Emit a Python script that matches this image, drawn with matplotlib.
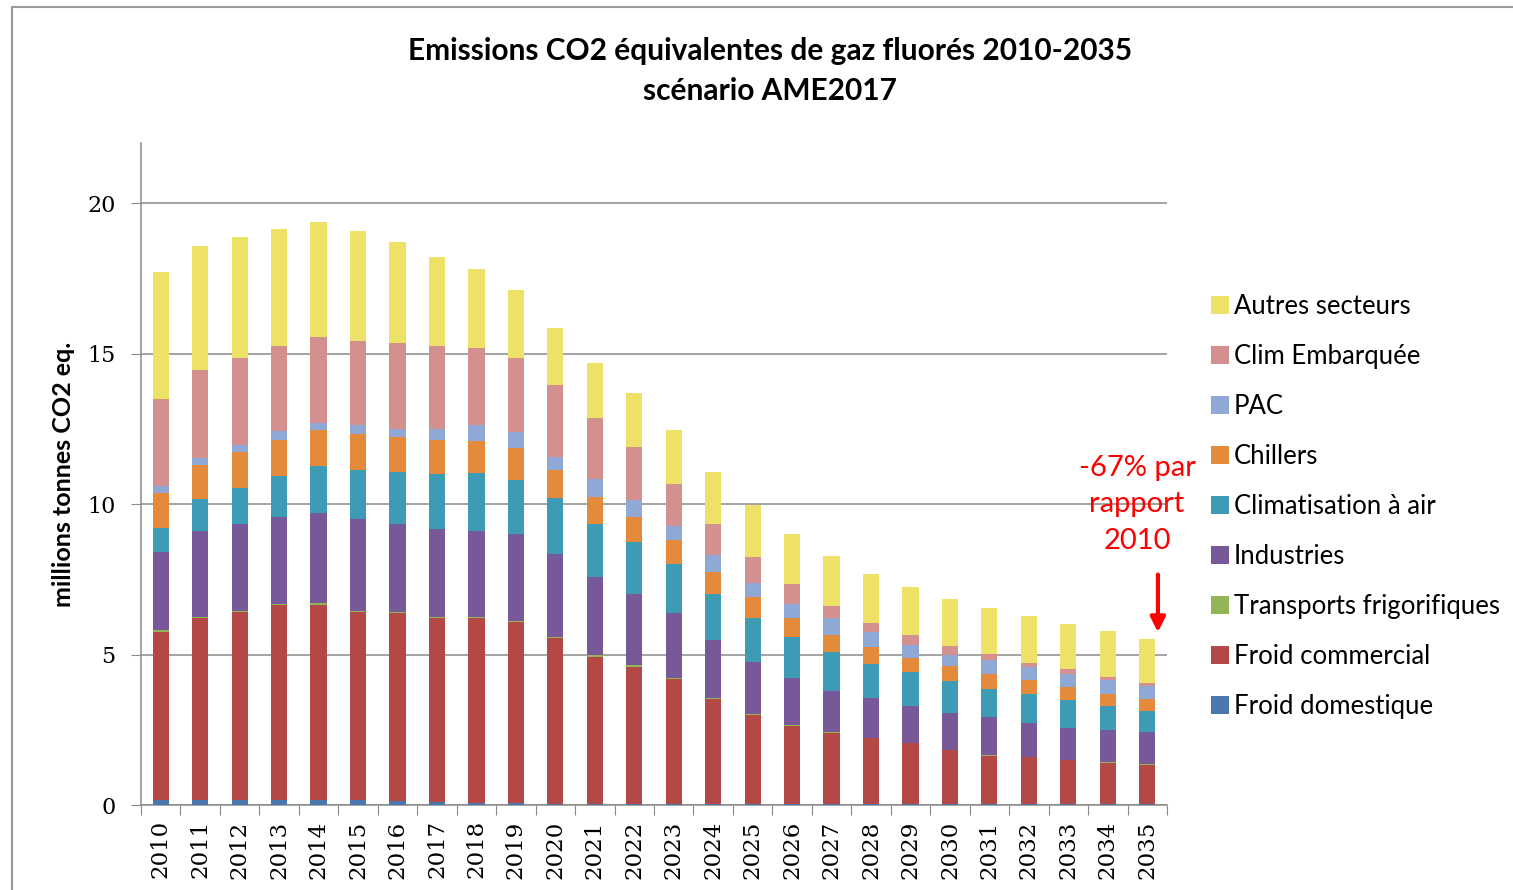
import matplotlib.pyplot as plt
from matplotlib.patches import Rectangle

# data (millions tonnes CO2 eq.)
years = ['2010', '2011', '2012', '2013', '2014', '2015', '2016', '2017', '2018',
         '2019', '2020', '2021', '2022', '2023', '2024', '2025', '2026', '2027',
         '2028', '2029', '2030', '2031', '2032', '2033', '2034', '2035']

froid_domestique = [0.15, 0.15, 0.17, 0.17, 0.17, 0.15, 0.12, 0.10, 0.08, 0.06, 0.05, 0.04, 0.03,
                    0.03, 0.03, 0.02, 0.02, 0.02, 0.02, 0.02, 0.02, 0.02, 0.02, 0.02, 0.02, 0.02]
transports_frigo = [0.05, 0.05, 0.05, 0.05, 0.05, 0.05, 0.05, 0.05, 0.05, 0.05, 0.05, 0.04, 0.04,
                    0.03, 0.03, 0.03, 0.02, 0.02, 0.02, 0.02, 0.02, 0.02, 0.02, 0.02, 0.02, 0.02]
froid_commercial = [5.61, 6.06, 6.24, 6.47, 6.49, 6.26, 6.25, 6.11, 6.13, 6.01, 5.50, 4.89, 4.57,
                    4.16, 3.50, 2.98, 2.62, 2.37, 2.20, 2.03, 1.80, 1.62, 1.56, 1.47, 1.39, 1.32]
industries = [2.61, 2.86, 2.88, 2.88, 3.01, 3.05, 2.92, 2.92, 2.86, 2.90, 2.74, 2.61, 2.37,
              2.15, 1.92, 1.71, 1.56, 1.38, 1.30, 1.22, 1.23, 1.25, 1.14, 1.06, 1.06, 1.05]
clim_air = [0.78, 1.04, 1.18, 1.35, 1.54, 1.61, 1.74, 1.83, 1.92, 1.78, 1.86, 1.76, 1.72,
            1.64, 1.53, 1.49, 1.36, 1.30, 1.16, 1.13, 1.06, 0.94, 0.94, 0.91, 0.80, 0.72]
chillers = [1.18, 1.14, 1.22, 1.22, 1.21, 1.21, 1.14, 1.12, 1.07, 1.07, 0.92, 0.90, 0.84,
            0.79, 0.74, 0.69, 0.62, 0.55, 0.55, 0.48, 0.49, 0.52, 0.47, 0.45, 0.39, 0.39]
pac = [0.22, 0.22, 0.24, 0.28, 0.24, 0.29, 0.29, 0.38, 0.51, 0.54, 0.46, 0.59, 0.57,
       0.48, 0.55, 0.46, 0.49, 0.56, 0.50, 0.41, 0.36, 0.46, 0.44, 0.44, 0.47, 0.43]
clim_embarquee = [2.89, 2.95, 2.89, 2.83, 2.86, 2.79, 2.84, 2.73, 2.57, 2.45, 2.38, 2.02, 1.76,
                  1.40, 1.04, 0.87, 0.66, 0.41, 0.30, 0.33, 0.31, 0.18, 0.14, 0.14, 0.09, 0.09]
autres = [4.22, 4.12, 4.00, 3.89, 3.79, 3.68, 3.35, 2.97, 2.63, 2.27, 1.90, 1.84, 1.79,
          1.79, 1.72, 1.72, 1.67, 1.66, 1.62, 1.59, 1.55, 1.55, 1.55, 1.50, 1.55, 1.47]

series = [
    ('Froid domestique', froid_domestique, '#4a78ae'),
    ('Froid commercial', froid_commercial, '#b34846'),
    ('Transports frigorifiques', transports_frigo, '#93b556'),
    ('Industries', industries, '#77599a'),
    ('Climatisation à air', clim_air, '#3e9bb5'),
    ('Chillers', chillers, '#e58a3a'),
    ('PAC', pac, '#8fa8d6'),
    ('Clim Embarquée', clim_embarquee, '#d4908e'),
    ('Autres secteurs', autres, '#ede168'),
]

fig = plt.figure(figsize=(15.13, 8.90), dpi=100)
ax = fig.add_axes([0.0932, 0.0955, 0.6781, 0.7438])

x = list(range(len(years)))
bottom = [0.0] * len(years)
handles = []
for name, vals, col in series:
    b = ax.bar(x, vals, width=0.41, bottom=bottom, color=col, label=name, zorder=3)
    handles.append(b)
    bottom = [b0 + v for b0, v in zip(bottom, vals)]

ax.set_xlim(-0.5, len(years) - 0.5)
ax.set_ylim(0, 22)
ax.set_yticks([0, 5, 10, 15, 20])
ax.yaxis.grid(True, color='#8a8a8a', linewidth=1.1, zorder=0)
ax.set_axisbelow(True)

for s in ['top', 'right']:
    ax.spines[s].set_visible(False)
for s in ['left', 'bottom']:
    ax.spines[s].set_color('#8a8a8a')
    ax.spines[s].set_linewidth(1.1)

# category ticks sit between the bars, labels under each bar
ax.set_xticks([i - 0.5 for i in range(len(years) + 1)])
ax.set_xticklabels([])
ax.set_xticks(x, minor=True)
ax.set_xticklabels(years, minor=True, rotation=90, family='DejaVu Serif', fontsize=16.5)
ax.tick_params(axis='x', which='major', length=7, color='#8a8a8a')
ax.tick_params(axis='x', which='minor', length=0, pad=11)
ax.tick_params(axis='y', length=7, color='#8a8a8a', labelsize=16, pad=11.5)
for lab in ax.get_yticklabels():
    lab.set_family('DejaVu Serif')

ax.set_ylabel('millions tonnes CO2 eq.', fontsize=18, fontweight='bold', family='Lato')
ax.yaxis.set_label_coords(-0.0643, 0.5)

fig.suptitle('Emissions CO2 équivalentes de gaz fluorés 2010-2035\nscénario AME2017',
             x=0.509, y=0.958, fontsize=21.5, fontweight='bold', family='Lato', linespacing=1.5)

leg = fig.legend(handles[::-1], [s[0] for s in series][::-1], loc='upper left',
                 bbox_to_anchor=(0.785, 0.6955), frameon=False, prop={'family': 'Lato', 'size': 18.5},
                 handlelength=0.7, handleheight=0.7, handletextpad=0.2, labelspacing=0.97)

ax.text(24.74, 10.0, '-67% par\nrapport\n2010', color='#ff0000', fontsize=21, family='Lato',
        ha='center', va='center', linespacing=1.5, zorder=5)
ax.annotate('', xy=(25.27, 5.65), xytext=(25.27, 7.75),
            arrowprops=dict(arrowstyle='-|>', color='#ff0000', lw=3, mutation_scale=22),
            annotation_clip=False)

# outer chart frame
fig.patches.append(Rectangle((12 / 1513, -0.1), 1.2, 0.1 + (890 - 7) / 890, transform=fig.transFigure,
                             fill=False, edgecolor='#9a9a9a', linewidth=1.5))

fig.savefig('out.png', dpi=100)
